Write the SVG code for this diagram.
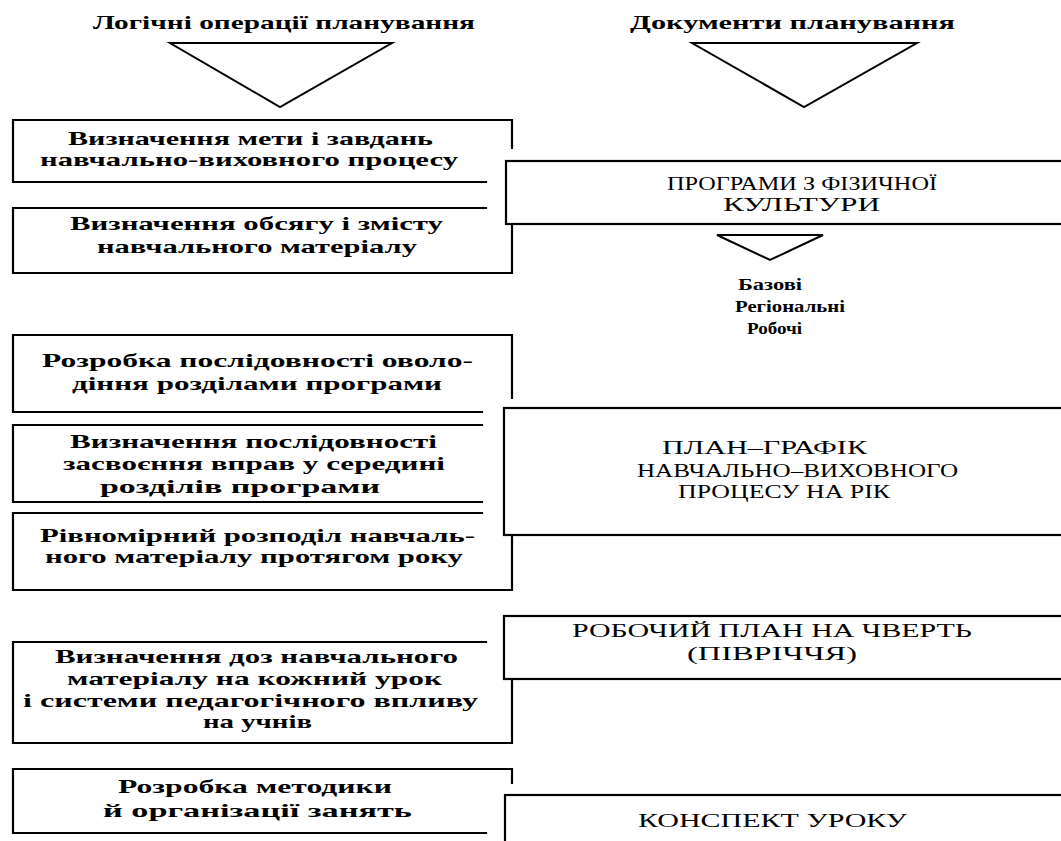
<svg xmlns="http://www.w3.org/2000/svg" width="1061" height="841" viewBox="0 0 1061 841">
<style>
.ln{fill:none;stroke:#000;stroke-width:2.2;stroke-linecap:square}
.box{fill:#fff;stroke:#000;stroke-width:2.2}
.tri{fill:#fff;stroke:#000;stroke-width:2;stroke-linejoin:miter}
.t{font-family:"Liberation Serif","DejaVu Serif",serif;font-weight:bold;font-size:19px;fill:#000}
.h{font-family:"Liberation Serif","DejaVu Serif",serif;font-weight:bold;font-size:19px;fill:#000}
.c{font-family:"Liberation Serif","DejaVu Serif",serif;font-size:18px;fill:#000}
.s{font-family:"Liberation Serif","DejaVu Serif",serif;font-weight:bold;font-size:17px;fill:#000}
</style>
<rect width="1061" height="841" fill="#fff"/>

<g id="headers">
<text class="h" x="93" y="29" textLength="382" lengthAdjust="spacingAndGlyphs">Логічні операції планування</text>
<text class="h" x="630" y="29" textLength="325" lengthAdjust="spacingAndGlyphs">Документи планування</text>
</g>

<g id="connectors">
<polygon class="tri" points="170,43 392,43 280,107"/>
<polygon class="tri" points="692,43 917,43 804,107"/>
<polygon class="tri" points="717,235 823,235 770,260"/>
</g>

<g id="op1">
<polyline class="ln" points="486,182 13,182 13,120 512,120 512,148"/>
<text class="t" x="68" y="145" textLength="365" lengthAdjust="spacingAndGlyphs">Визначення мети і завдань</text>
<text class="t" x="40" y="166" textLength="418" lengthAdjust="spacingAndGlyphs">навчально-виховного процесу</text>
</g>

<g id="op2">
<polyline class="ln" points="486,208 13,208 13,273 512,273 512,224"/>
<text class="t" x="70" y="230" textLength="373" lengthAdjust="spacingAndGlyphs">Визначення обсягу і змісту</text>
<text class="t" x="97" y="253" textLength="320" lengthAdjust="spacingAndGlyphs">навчального матеріалу</text>
</g>

<g id="doc1">
<rect class="box" x="506" y="161" width="600" height="63"/>
<text class="c" x="667" y="190" textLength="270" lengthAdjust="spacingAndGlyphs">ПРОГРАМИ З ФІЗИЧНОЇ</text>
<text class="c" x="723" y="211" textLength="157" lengthAdjust="spacingAndGlyphs">КУЛЬТУРИ</text>
</g>

<g id="types">
<text class="s" x="738" y="290" textLength="64" lengthAdjust="spacingAndGlyphs">Базові</text>
<text class="s" x="735" y="312" textLength="110" lengthAdjust="spacingAndGlyphs">Регіональні</text>
<text class="s" x="747" y="334" textLength="55" lengthAdjust="spacingAndGlyphs">Робочі</text>
</g>

<g id="op3">
<polyline class="ln" points="482,412 13,412 13,335 512,335 512,398"/>
<text class="t" x="42" y="367" textLength="431" lengthAdjust="spacingAndGlyphs">Розробка послідовності оволо-</text>
<text class="t" x="72" y="390" textLength="370" lengthAdjust="spacingAndGlyphs">діння розділами програми</text>
</g>

<g id="op4">
<polyline class="ln" points="482,425 13,425 13,502 482,502"/>
<text class="t" x="70" y="448" textLength="367" lengthAdjust="spacingAndGlyphs">Визначення послідовності</text>
<text class="t" x="63" y="470" textLength="382" lengthAdjust="spacingAndGlyphs">засвоєння вправ у середині</text>
<text class="t" x="100" y="493" textLength="280" lengthAdjust="spacingAndGlyphs">розділів програми</text>
</g>

<g id="op5">
<polyline class="ln" points="482,513 13,513 13,590 512,590 512,535"/>
<text class="t" x="40" y="542" textLength="435" lengthAdjust="spacingAndGlyphs">Рівномірний розподіл навчаль-</text>
<text class="t" x="45" y="563" textLength="418" lengthAdjust="spacingAndGlyphs">ного матеріалу протягом року</text>
</g>

<g id="doc2">
<rect class="box" x="504" y="408" width="600" height="127"/>
<text class="c" x="662" y="454" textLength="205" lengthAdjust="spacingAndGlyphs">ПЛАН–ГРАФІК</text>
<text class="c" x="637" y="477" textLength="321" lengthAdjust="spacingAndGlyphs">НАВЧАЛЬНО–ВИХОВНОГО</text>
<text class="c" x="678" y="498" textLength="212" lengthAdjust="spacingAndGlyphs">ПРОЦЕСУ НА РІК</text>
</g>

<g id="op6">
<polyline class="ln" points="486,642 13,642 13,743 512,743 512,679"/>
<text class="t" x="55" y="663" textLength="403" lengthAdjust="spacingAndGlyphs">Визначення доз навчального</text>
<text class="t" x="67" y="685" textLength="375" lengthAdjust="spacingAndGlyphs">матеріалу на кожний урок</text>
<text class="t" x="23" y="707" textLength="455" lengthAdjust="spacingAndGlyphs">і системи педагогічного впливу</text>
<text class="t" x="203" y="728" textLength="109" lengthAdjust="spacingAndGlyphs">на учнів</text>
</g>

<g id="doc3">
<rect class="box" x="504" y="616" width="600" height="63"/>
<text class="c" x="572" y="637" textLength="400" lengthAdjust="spacingAndGlyphs">РОБОЧИЙ ПЛАН НА ЧВЕРТЬ</text>
<text class="c" x="687" y="660" textLength="170" lengthAdjust="spacingAndGlyphs">(ПІВРІЧЧЯ)</text>
</g>

<g id="op7">
<polyline class="ln" points="486,833 13,833 13,769 512,769 512,783"/>
<text class="t" x="118" y="793" textLength="274" lengthAdjust="spacingAndGlyphs">Розробка методики</text>
<text class="t" x="103" y="817" textLength="309" lengthAdjust="spacingAndGlyphs">й організації занять</text>
</g>

<g id="doc4">
<rect class="box" x="505" y="795" width="600" height="80"/>
<text class="c" x="638" y="827" textLength="269" lengthAdjust="spacingAndGlyphs">КОНСПЕКТ УРОКУ</text>
</g>
</svg>
